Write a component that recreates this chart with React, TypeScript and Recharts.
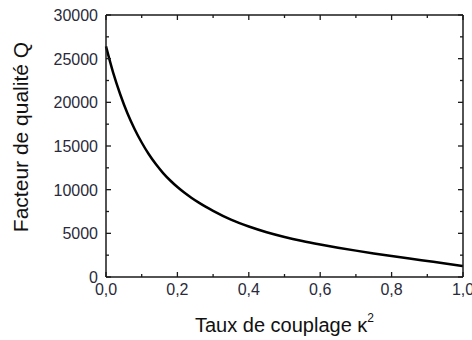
import { Line, LineChart, XAxis, YAxis } from "recharts";

// coupling rate kappa^2 and quality factor Q
const kappa = [
  0, 0.02, 0.04, 0.06, 0.08, 0.1, 0.12, 0.14, 0.16, 0.18, 0.2, 0.22, 0.24,
  0.26, 0.28, 0.3, 0.35, 0.4, 0.45, 0.5, 0.55, 0.6, 0.65, 0.7, 0.75, 0.8, 0.85,
  0.9, 0.95, 1.0,
];
const qFactor = [
  26400, 23400, 20900, 18750, 16950, 15400, 14050, 12900, 11900, 11050, 10300,
  9640, 9050, 8520, 8030, 7580, 6570, 5780, 5130, 4590, 4130, 3730, 3360, 3020,
  2700, 2400, 2110, 1830, 1550, 1260,
];

const xTicks = [0, 0.1, 0.2, 0.3, 0.4, 0.5, 0.6, 0.7, 0.8, 0.9, 1.0];
const yTicks = [
  0, 2500, 5000, 7500, 10000, 12500, 15000, 17500, 20000, 22500, 25000, 27500,
  30000,
];

const data = kappa.map((k, i) => ({ k, q: qFactor[i] }));

const FONT = "'Liberation Sans', Arial, sans-serif";
const AXIS = "#1a1a1a";

const isMajorX = (v: number) => Math.round(v * 10) % 2 === 0;
const isMajorY = (v: number) => v % 5000 === 0;
const fmtX = (v: number) => v.toFixed(1).replace(".", ",");

function BottomTick(props: any) {
  const { x, y, payload } = props;
  const major = isMajorX(payload.value);
  return (
    <g>
      <line x1={x} x2={x} y1={y} y2={y - (major ? 5 : 3)} stroke={AXIS} strokeWidth={1.3} />
      {major && (
        <text x={x} y={y + 18} textAnchor="middle" fontSize={16} fontFamily={FONT} fill="#2a2a3a">
          {fmtX(payload.value)}
        </text>
      )}
    </g>
  );
}

function TopTick(props: any) {
  const { x, y, payload } = props;
  const major = isMajorX(payload.value);
  return <line x1={x} x2={x} y1={y} y2={y + (major ? 5 : 3)} stroke={AXIS} strokeWidth={1.3} />;
}

function LeftTick(props: any) {
  const { x, y, payload } = props;
  const major = isMajorY(payload.value);
  return (
    <g>
      <line x1={x} x2={x + (major ? 5 : 3)} y1={y} y2={y} stroke={AXIS} strokeWidth={1.3} />
      {major && (
        <text x={x - 8} y={y + 6} textAnchor="end" fontSize={16} fontFamily={FONT} fill="#2a2a3a">
          {payload.value}
        </text>
      )}
    </g>
  );
}

function RightTick(props: any) {
  const { x, y, payload } = props;
  const major = isMajorY(payload.value);
  return <line x1={x} x2={x - (major ? 5 : 3)} y1={y} y2={y} stroke={AXIS} strokeWidth={1.3} />;
}

export default function App() {
  return (
    <div style={{ position: "absolute", left: 0, top: 0 }}>
      <LineChart width={472} height={340} data={data} margin={{ top: 14, right: 8, bottom: 0, left: 0 }}>
        <XAxis
          xAxisId="bottom"
          dataKey="k"
          type="number"
          domain={[0, 1]}
          ticks={xTicks}
          interval={0}
          height={63}
          tickSize={0}
          tickMargin={0}
          tickLine={false}
          tick={(p: any) => <BottomTick {...p} />}
          axisLine={{ stroke: AXIS, strokeWidth: 1.5 }}
          label={{
            content: (lp: any) => {
              const vb = lp.viewBox;
              return (
                <text x={vb.x + vb.width / 2} y={vb.y + 55} textAnchor="middle" fontSize={20} fontFamily={FONT} fill="#111">
                  Taux de couplage κ
                  <tspan fontSize={12} dy={-10}>2</tspan>
                </text>
              );
            },
          }}
        />
        <XAxis
          xAxisId="top"
          orientation="top"
          dataKey="k"
          type="number"
          domain={[0, 1]}
          ticks={xTicks}
          interval={0}
          height={1}
          tickSize={0}
          tickMargin={0}
          tickLine={false}
          tick={(p: any) => <TopTick {...p} />}
          axisLine={{ stroke: AXIS, strokeWidth: 1.5 }}
        />
        <YAxis
          yAxisId="left"
          type="number"
          domain={[0, 30000]}
          ticks={yTicks}
          interval={0}
          width={106}
          tickSize={0}
          tickMargin={0}
          tickLine={false}
          tick={(p: any) => <LeftTick {...p} />}
          axisLine={{ stroke: AXIS, strokeWidth: 1.5 }}
          label={{
            content: (lp: any) => {
              const vb = lp.viewBox;
              const cx = 28;
              const cy = vb.y + vb.height / 2 - 9;
              return (
                <text
                  x={cx}
                  y={cy}
                  transform={`rotate(-90 ${cx} ${cy})`}
                  textAnchor="middle"
                  fontSize={21}
                  fontFamily={FONT}
                  fill="#111"
                >
                  Facteur de qualité Q
                </text>
              );
            },
          }}
        />
        <YAxis
          yAxisId="right"
          orientation="right"
          type="number"
          domain={[0, 30000]}
          ticks={yTicks}
          interval={0}
          width={1}
          tickSize={0}
          tickMargin={0}
          tickLine={false}
          tick={(p: any) => <RightTick {...p} />}
          axisLine={{ stroke: AXIS, strokeWidth: 1.5 }}
        />
        {/* invisible series so the top/right frame axes get drawn */}
        <Line
          xAxisId="top"
          yAxisId="right"
          dataKey="q"
          stroke="none"
          dot={false}
          activeDot={false}
          legendType="none"
          isAnimationActive={false}
        />
        <Line
          xAxisId="bottom"
          yAxisId="left"
          dataKey="q"
          type="monotone"
          stroke="#000"
          strokeWidth={2.5}
          dot={false}
          isAnimationActive={false}
        />
      </LineChart>
    </div>
  );
}
